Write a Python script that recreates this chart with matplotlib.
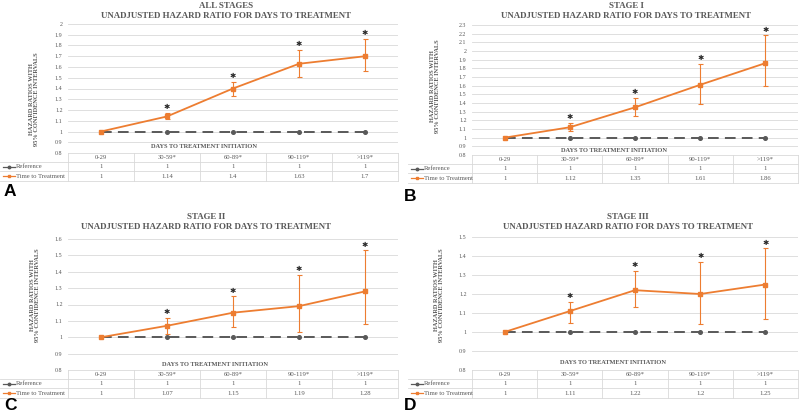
import matplotlib
matplotlib.use('Agg')
import matplotlib.pyplot as plt
import numpy as np

# data
categories = ['0-29', '30-59*', '60-89*', '90-119*', '>119*']
reference = [1, 1, 1, 1, 1]

hr_all = [1, 1.14, 1.4, 1.63, 1.7]
lo_all = [1, 1.12, 1.33, 1.51, 1.56]
hi_all = [1, 1.17, 1.46, 1.76, 1.86]

hr_s1 = [1, 1.12, 1.35, 1.61, 1.86]
lo_s1 = [1, 1.08, 1.25, 1.39, 1.60]
hi_s1 = [1, 1.17, 1.46, 1.85, 2.18]

hr_s2 = [1, 1.07, 1.15, 1.19, 1.28]
lo_s2 = [1, 1.02, 1.06, 1.03, 1.08]
hi_s2 = [1, 1.12, 1.25, 1.38, 1.53]

hr_s3 = [1, 1.11, 1.22, 1.2, 1.25]
lo_s3 = [1, 1.05, 1.13, 1.04, 1.07]
hi_s3 = [1, 1.16, 1.32, 1.37, 1.44]

ORANGE = '#ED7D31'
GREY = '#595959'
GRID = '#D9D9D9'
SERIF = 'Liberation Serif'

W, H = 800, 417
fig = plt.figure(figsize=(W / 100, H / 100), dpi=100)


def fx(x):
    return x / W


def fy(y):
    return 1 - y / H


def panel(left, right, top, bottom, tab_left, ylim, hr, lo, hi, titles,
          title_x, title_y, ylab_x, ylab_y, xlab_x, xlab_y, letter, letter_xy):
    ax = fig.add_axes([fx(left), fy(bottom), fx(right - left), (bottom - top) / H])
    x = np.arange(len(categories))
    ax.set_xlim(-0.5, len(categories) - 0.5)
    ax.set_ylim(*ylim)
    ticks = np.round(np.arange(ylim[0], ylim[1] + 0.001, 0.1), 1)
    ax.set_yticks(ticks)
    ax.set_yticklabels(['{:g}'.format(t) for t in ticks], fontsize=4.3,
                       color=GREY, family=SERIF)
    ax.tick_params(axis='y', length=0, pad=4)
    ax.set_xticks([])
    for s in ax.spines.values():
        s.set_visible(False)
    ax.grid(axis='y', color=GRID, lw=0.6)
    ax.set_axisbelow(True)

    ax.plot(x, reference, color=GREY, lw=1.4, dashes=(5.5, 3.2), marker='o',
            ms=2.6, zorder=3)
    yerr = [np.array(hr) - np.array(lo), np.array(hi) - np.array(hr)]
    ax.errorbar(x[1:], hr[1:], yerr=[yerr[0][1:], yerr[1][1:]], fmt='none',
                ecolor=ORANGE, elinewidth=0.8, capsize=1.8, capthick=0.8, zorder=4)
    ax.plot(x, hr, color=ORANGE, lw=1.3, marker='s', ms=2.2, zorder=5)
    for i in x[1:]:
        ax.annotate('\u2731', xy=(i, hi[i]), xytext=(0, 2.0),
                    textcoords='offset points', ha='center', va='bottom',
                    fontsize=5.4, color='#262626', family='DejaVu Sans')

    # titles and axis labels
    fig.text(fx(title_x), fy(title_y), titles[0], ha='center', va='center',
             fontsize=6.4, fontweight='bold', color=GREY, family=SERIF)
    fig.text(fx(title_x), fy(title_y + 10), titles[1], ha='center', va='center',
             fontsize=6.4, fontweight='bold', color=GREY, family=SERIF)
    fig.text(fx(ylab_x), fy(ylab_y), 'HAZARD RATIOS WITH\n95% CONFIDENCE INTERVALS',
             rotation=90, ha='center', va='center', fontsize=4.6,
             fontweight='bold', color=GREY, family=SERIF, linespacing=1.1)
    fig.text(fx(xlab_x), fy(xlab_y), 'DAYS TO TREATMENT INITIATION', ha='center',
             va='center', fontsize=4.6, fontweight='bold', color=GREY, family=SERIF)
    fig.text(fx(letter_xy[0]), fy(letter_xy[1]), letter, ha='left', va='center',
             fontsize=12.5, fontweight='bold', family='Liberation Sans')

    # data table under the plot
    row_h = 9.2
    tax = fig.add_axes([fx(tab_left), fy(bottom + 3 * row_h), fx(right - tab_left),
                        3 * row_h / H])
    upp = len(categories) / (right - left)
    x0 = -0.5 - (left - tab_left) * upp
    tax.set_xlim(x0, len(categories) - 0.5)
    tax.set_ylim(3, 0)
    tax.axis('off')
    lc = dict(color=GRID, lw=0.6, clip_on=False)
    tax.plot([-0.5, len(categories) - 0.5], [0, 0], **lc)
    for r in (1, 2, 3):
        tax.plot([x0, len(categories) - 0.5], [r, r], **lc)
    for k in range(len(categories) + 1):
        tax.plot([k - 0.5, k - 0.5], [0, 3], **lc)
    tkw = dict(ha='center', va='center', fontsize=4.8, color=GREY, family=SERIF)
    for i, c in enumerate(categories):
        tax.text(i, 0.5, c, **tkw)
        tax.text(i, 1.5, '{:g}'.format(reference[i]), **tkw)
        tax.text(i, 2.5, '{:g}'.format(hr[i]), **tkw)
    k0, k1 = x0 + 3 * upp, x0 + 15 * upp
    tax.plot([k0, k1], [1.5, 1.5], color=GREY, lw=0.9, clip_on=False)
    tax.plot([(k0 + k1) / 2], [1.5], color=GREY, marker='o', ms=1.8, clip_on=False)
    tax.plot([k0, k1], [2.5, 2.5], color=ORANGE, lw=0.9, clip_on=False)
    tax.plot([(k0 + k1) / 2], [2.5], color=ORANGE, marker='s', ms=1.6, clip_on=False)
    lkw = dict(ha='left', va='center', fontsize=4.8, color=GREY, family=SERIF)
    tax.text(k1 + upp, 1.5, 'Reference', **lkw)
    tax.text(k1 + upp, 2.5, 'Time to Treatment', **lkw)
    return ax


panel(68, 398, 24, 153, 0, (0.8, 2.0), hr_all, lo_all, hi_all,
      ('ALL STAGES', 'UNADJUSTED HAZARD RATIO FOR DAYS TO TREATMENT'),
      226, 6, 34, 99, 204, 147, 'A', (4, 192))
panel(472, 798, 25, 155, 408, (0.8, 2.3), hr_s1, lo_s1, hi_s1,
      ('STAGE I', 'UNADJUSTED HAZARD RATIO FOR DAYS TO TREATMENT'),
      626, 6, 435, 86, 614, 151, 'B', (404, 197))
panel(68, 398, 239, 370, 0, (0.8, 1.6), hr_s2, lo_s2, hi_s2,
      ('STAGE II', 'UNADJUSTED HAZARD RATIO FOR DAYS TO TREATMENT'),
      206, 217, 35, 295, 215, 364, 'C', (4, 405))
panel(472, 798, 237, 370, 408, (0.8, 1.5), hr_s3, lo_s3, hi_s3,
      ('STAGE III', 'UNADJUSTED HAZARD RATIO FOR DAYS TO TREATMENT'),
      628, 217, 439, 295, 613, 362, 'D', (404, 405))

fig.savefig('out.png', dpi=100, facecolor='white')
